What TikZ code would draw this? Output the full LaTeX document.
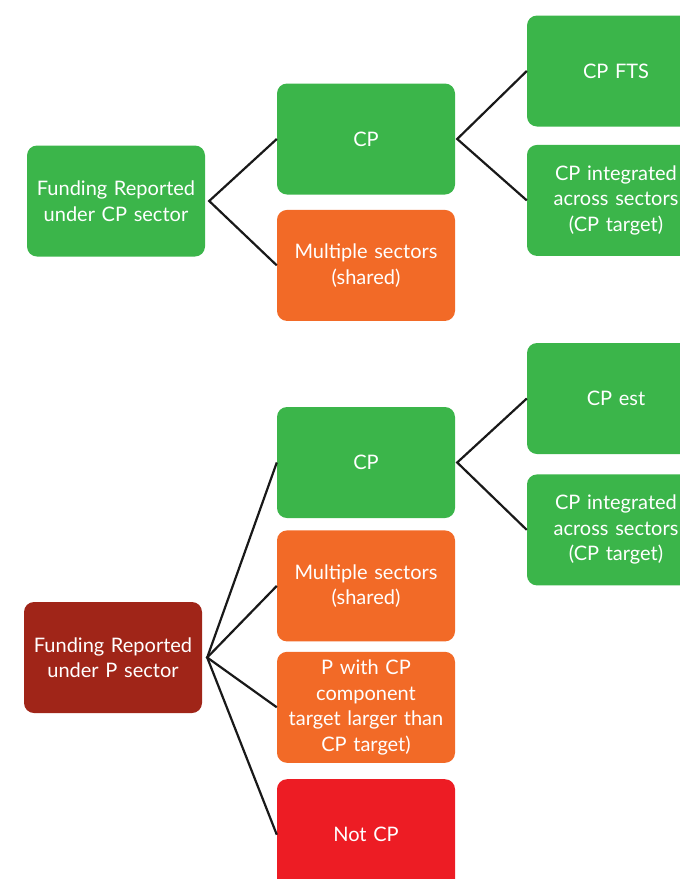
\documentclass[tikz,border=0pt]{standalone}
\usepackage{xcolor}
\usepackage{fontspec}
\setmainfont{Lato}
\usepackage{tikz}
\usetikzlibrary{positioning}

\definecolor{cpgreen}{RGB}{59,181,74}
\definecolor{shareorange}{RGB}{242,106,39}
\definecolor{pdarkred}{RGB}{160,37,24}
\definecolor{notred}{RGB}{237,28,36}

\begin{document}
\begin{tikzpicture}[x=1pt, y=1pt,
  box/.style={rounded corners=10pt, align=center, text=white, inner sep=0pt,
    font=\fontsize{20}{25.5}\selectfont, minimum width=178pt, minimum height=111pt, text width=174pt},
  cp/.style={box, fill=cpgreen},
  shared/.style={box, fill=shareorange},
  psec/.style={box, fill=pdarkred},
  notcp/.style={box, fill=notred},
  link/.style={draw=black!90, line width=2.2pt}]

  \useasboundingbox (0,0) rectangle (680,-879);
  \clip (0,0) rectangle (680,-879);

  % upper tree
  \node[cp] (cpsec) at (116,-201) {Funding Reported\\under CP sector};
  \node[cp] (cp1) at (366,-139) {CP};
  \node[shared, below=15pt of cp1] (multi1) {Multiple sectors\\(shared)};
  \node[cp] (fts) at (616,-71) {CP FTS};
  \node[cp, below=18pt of fts] (integ1) {CP integrated\\across sectors\\(CP target)};

  % lower tree
  \node[psec] (psec) at (113,-657.5) {Funding Reported\\under P sector};
  \node[cp] (cp2) at (366,-462.5) {CP};
  \node[shared, below=12pt of cp2] (multi2) {Multiple sectors\\(shared)};
  \node[shared, below=10pt of multi2] (pwith) {P with CP\\component\\target larger than\\CP target)};
  \node[notcp, below=16pt of pwith] (notcp) {Not CP};
  \node[cp] (est) at (616,-398.5) {CP est};
  \node[cp, below=20pt of est] (integ2) {CP integrated\\across sectors\\(CP target)};

  \coordinate (cpsecR) at ([xshift=4pt]cpsec.east);
  \coordinate (cp1R) at ([xshift=2pt]cp1.east);
  \coordinate (psecR) at ([xshift=5pt]psec.east);
  \coordinate (cp2R) at ([xshift=2pt]cp2.east);

  \draw[link] (cp1.west) -- (cpsecR) -- (multi1.west);
  \draw[link] (fts.west) -- (cp1R) -- (integ1.west);
  \draw[link] (cp2.west) -- (psecR) -- (notcp.west);
  \draw[link] (multi2.west) -- (psecR) -- (pwith.west);
  \draw[link] (est.west) -- (cp2R) -- (integ2.west);
\end{tikzpicture}
\end{document}
